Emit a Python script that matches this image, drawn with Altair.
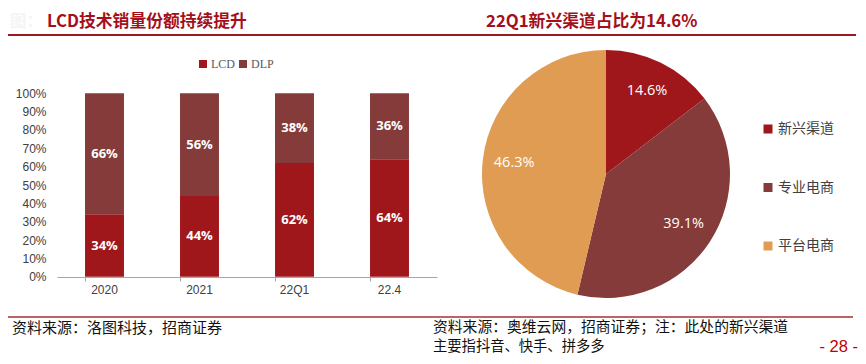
import altair as alt
import pandas as pd

# ---------------- data ----------------
years = ["2020", "2021", "22Q1", "22.4"]
lcd = [34, 44, 62, 64]
dlp = [66, 56, 38, 36]
bar_series = ["LCD", "DLP"]
bar_colors = ["#A0171B", "#843B3A"]
y_ticks = [0, 10, 20, 30, 40, 50, 60, 70, 80, 90, 100]

pie_cats = ["新兴渠道", "专业电商", "平台电商"]
pie_vals = [14.6, 39.1, 46.3]
pie_colors = ["#A0171B", "#843B3A", "#DF9C52"]

title_left = "LCD技术销量份额持续提升"
title_right = "22Q1新兴渠道占比为14.6%"
source_left = "资料来源：洛图科技，招商证券"
source_right_1 = "资料来源：奥维云网，招商证券；注：此处的新兴渠道"
source_right_2 = "主要指抖音、快手、拼多多"
page_no = "- 28 -"

rows = []
for i, y in enumerate(years):
    rows.append({"year": y, "series": "LCD", "ord": 0, "value": lcd[i]})
    rows.append({"year": y, "series": "DLP", "ord": 1, "value": dlp[i]})
bar_df = pd.DataFrame(rows)

pie_df = pd.DataFrame({"cat": pie_cats, "val": pie_vals, "ord": list(range(len(pie_cats)))})
pie_df["label"] = [f"{v:.1f}%" for v in pie_vals]

AX_FONT = "Liberation Sans"
CJK = "Noto Sans CJK SC"

# ---------------- bar chart ----------------
xscale = alt.Scale(range=[49, 429], paddingInner=0.59, paddingOuter=0.295)
yscale = alt.Scale(domain=[0, 100], range=[268.7, 85.3], nice=False, zero=True)
xaxis = alt.Axis(title=None, labelAngle=0, labelFont=AX_FONT, labelFontSize=12,
                 labelColor="#404040", domainColor="#A6A6A6", tickColor="#A6A6A6",
                 tickSize=4, labelPadding=3, bandPosition=0, offset=-79, grid=False)
yaxis = alt.Axis(title=None, values=y_ticks, tickCount=11,
                 labelExpr="datum.value + '%'", labelFont=AX_FONT, labelFontSize=12,
                 labelColor="#404040", domain=False, ticks=False, grid=False,
                 labelPadding=2, offset=-40, labelOverlap=False, labelBound=False)

base_bar = alt.Chart(bar_df).transform_stack(
    stack="value", groupby=["year"], as_=["v0", "v1"],
    sort=[alt.SortField("ord", order="ascending")]
).transform_calculate(mid="(datum.v0 + datum.v1) / 2",
                      lab="datum.value + '%'")

bars = base_bar.mark_bar().encode(
    x=alt.X("year:N", sort=years, scale=xscale, axis=xaxis),
    y=alt.Y("v0:Q", scale=yscale, axis=yaxis),
    y2="v1:Q",
    color=alt.Color("series:N", scale=alt.Scale(domain=bar_series, range=bar_colors),
                    legend=alt.Legend(title=None, orient="none", legendX=189, legendY=50,
                                      direction="horizontal", symbolType="square",
                                      symbolSize=64, symbolStrokeWidth=0,
                                      labelFont="Liberation Serif", labelFontSize=12,
                                      labelColor="#595959", labelOffset=2, columnPadding=2)),
)

bar_text = base_bar.mark_text(font="Open Sans", fontWeight="bold", fontSize=13,
                              color="white", baseline="middle").encode(
    x=alt.X("year:N", sort=years, scale=xscale, axis=xaxis),
    y=alt.Y("mid:Q", scale=yscale, axis=yaxis),
    text="lab:N",
)

bar_group = alt.layer(bars, bar_text)

# ---------------- pie chart ----------------
CX, CY, R = 598, 166, 124
pie = alt.Chart(pie_df).mark_arc(radius=R).encode(
    theta=alt.Theta("val:Q", stack=True),
    order=alt.Order("ord:Q"),
    x=alt.value(CX), y=alt.value(CY),
    color=alt.Color("cat:N", scale=alt.Scale(domain=pie_cats, range=pie_colors),
                    legend=alt.Legend(title=None, orient="none", legendX=753, legendY=114,
                                      direction="vertical", symbolType="square",
                                      symbolSize=81, symbolStrokeWidth=0,
                                      labelFont=CJK, labelFontSize=14, labelColor="#404040",
                                      labelOffset=3, rowPadding=44.5)),
)
pie_text = alt.Chart(pie_df).mark_text(radius=92.5, font="Open Sans", fontSize=14.5,
                                        color="white", baseline="middle").encode(
    theta=alt.Theta("val:Q", stack=True),
    order=alt.Order("ord:Q"),
    x=alt.value(CX), y=alt.value(CY),
    text="label:N",
)
pie_group = alt.layer(pie, pie_text)

# ---------------- decorations ----------------
one = alt.Data(values=[{}])


def txt(s, x, y, size, color, weight="normal", font=CJK, align="left"):
    return alt.Chart(one).mark_text(font=font, fontSize=size, fontWeight=weight, color=color,
                                    align=align, baseline="middle").encode(
        x=alt.value(x), y=alt.value(y), text=alt.value(s))


def hline(x1, x2, y, color, w):
    return alt.Chart(one).mark_rule(color=color, strokeWidth=w).encode(
        x=alt.value(x1), x2=alt.value(x2), y=alt.value(y))


decor = [
    txt("图：", 2, 13.5, 16.5, "#F5F5F5", "bold"),
    txt(title_left, 39, 13.5, 16.8, "#A3101B", "bold"),
    txt(title_right, 478, 13.5, 16.8, "#A3101B", "bold"),
    hline(0, 848, 27, "#9A1B1F", 2),
    hline(0, 845, 309, "#A6302F", 1.5),
    txt(source_left, 4, 319.5, 15, "#111111"),
    txt(source_right_1, 425, 319.5, 14.8, "#111111"),
    txt(source_right_2, 425, 339, 14.3, "#111111"),
    txt(page_no, 850, 338.5, 16.5, "#C00000", font=AX_FONT, align="right"),
]

chart = alt.layer(bar_group, pie_group, *decor).resolve_scale(
    x="independent", y="independent", color="independent", theta="independent"
).resolve_legend(color="independent").properties(
    width=850, height=348, padding=0,
    autosize=alt.AutoSizeParams(type="none"),
    background="white",
).configure_view(stroke=None)

chart.save("out.html", embed_options={"renderer": "svg", "actions": False})
